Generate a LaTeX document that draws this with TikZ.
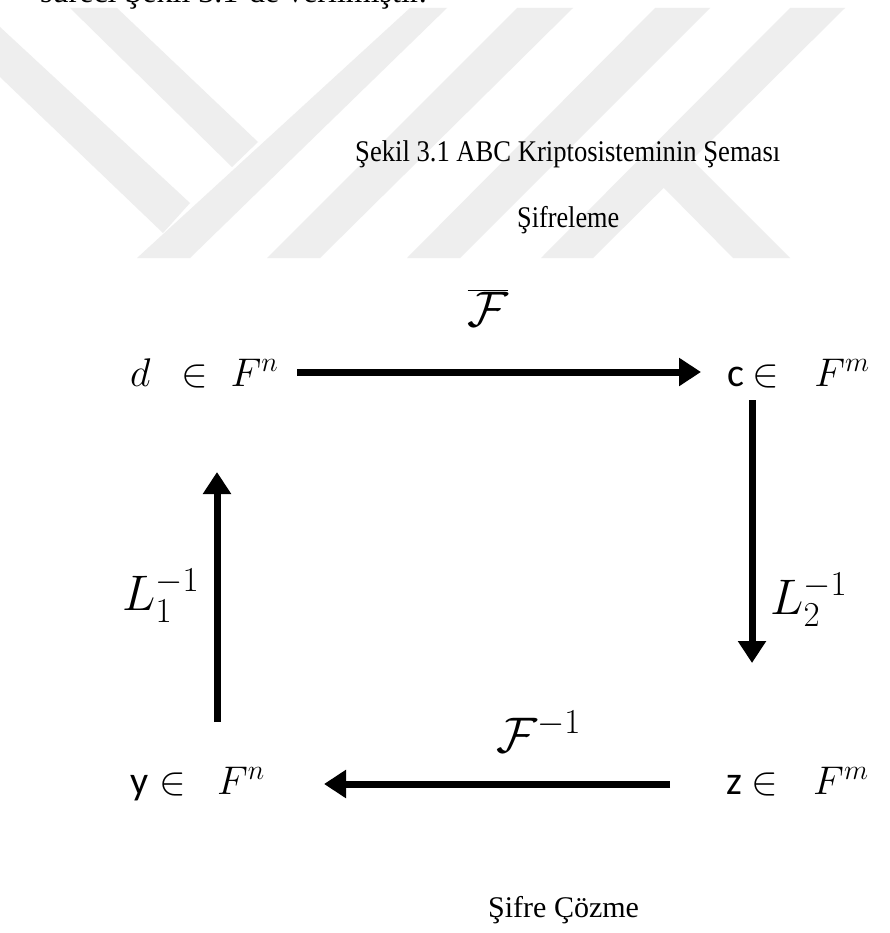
\RequirePackage{fix-cm}
\documentclass[tikz,border=0pt]{standalone}
\usepackage{fontspec}
\setmainfont{Liberation Serif}
\newfontfamily\carl{Carlito}
\usetikzlibrary{arrows.meta}
\definecolor{wmgray}{HTML}{EEEEEE}
\tikzset{
  wm/.style={fill=wmgray, draw=none},
  setnode/.style={inner sep=0pt, anchor=base west, font=\fontsize{40}{48}\selectfont},
  maplabel/.style={inner sep=0pt, font=\fontsize{50}{58}\selectfont},
  conn/.style={line width=7pt, -{Triangle[length=22pt,width=27pt]}},
  txt/.style={inner sep=0pt, anchor=base west}
}
\begin{document}
\begin{tikzpicture}[x=1pt,y=-1pt]
\fill[white] (0,0) rectangle (890,933);
\useasboundingbox (0,0) rectangle (890,933);
% watermark
\begin{scope}
\clip (0,8) rectangle (890,258);
\fill[wm] (410,8) -- (447,8) -- (190,258) -- (137,258) -- cycle;
\fill[wm] (70,8) -- (117,8) -- (258,142) -- (232,167) -- cycle;
\fill[wm] (0,27) -- (190,203) -- (163,233) -- (0,77) -- cycle;
\fill[wm] (517,8) -- (573,8) -- (320,258) -- (267,258) -- cycle;
\fill[wm] (655,8) -- (710,8) -- (460,258) -- (407,258) -- cycle;
\fill[wm] (790,8) -- (845,8) -- (593,258) -- (541,258) -- cycle;
\fill[wm] (663,187) -- (733,258) -- (790,258) -- (691,159) -- cycle;
\end{scope}
% texts
\node[txt, font=\fontsize{32}{36}\selectfont] (intro) at (40,3) {süreci Şekil 3.1’de verilmiştir.};
\node[txt] (cap) at (355,162) {\scalebox{0.887}[1]{\fontsize{30}{34}\selectfont Şekil 3.1 ABC Kriptosisteminin Şeması}};
\node[txt] (enc) at (517,228) {\scalebox{0.875}[1]{\fontsize{30}{34}\selectfont Şifreleme}};
\node[txt, font=\fontsize{30}{34}\selectfont] (dec) at (488,917) {Şifre Çözme};
% set nodes
\node[setnode] (d) at (130,386) {$d\mkern9mu\in\mkern5mu F^{n}$};
\node[setnode] (c) at (727,386) {{\carl c}\hspace{8pt}$\in\mkern11mu F^{m}$};
\node[setnode] (y) at (130,794) {{\carl y}\hspace{11pt}$\in\mkern9mu F^{n}$};
\node[setnode] (z) at (726,794) {{\carl z}\hspace{9pt}$\in\mkern11mu F^{m}$};
% arrow end points
\coordinate (dE) at (297,372);
\coordinate (cW) at (701,372);
\coordinate (cS) at (752,400);
\coordinate (zN) at (752,663);
\coordinate (zW) at (670,784);
\coordinate (yE) at (324,784);
\coordinate (yN) at (217,722);
\coordinate (dS) at (217,472);
\draw[conn] (dE) -- (cW);
\draw[conn] (cS) -- (zN);
\draw[conn] (zW) -- (yE);
\draw[conn] (yN) -- (dS);
% labels
\node[maplabel] (lF) at (488,308) {$\overline{\mathcal{F}}$};
\node[maplabel, anchor=base west] (lFi) at (496,752) {$\mathcal{F}^{-1}$};
\node[maplabel, anchor=base west] (lL1) at (122,610) {$L_1^{-1}$};
\node[maplabel, anchor=base west] (lL2) at (770,614) {$L_2^{-1}$};
\end{tikzpicture}
\end{document}
